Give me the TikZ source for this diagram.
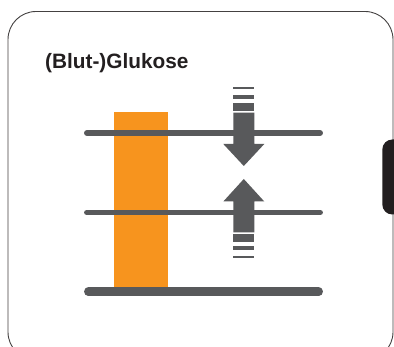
\documentclass[tikz,border=0pt]{standalone}
\usepackage{fontspec}
\setmainfont{Liberation Sans}
\definecolor{barorange}{HTML}{F7941E}
\definecolor{levelgray}{HTML}{58595B}
\definecolor{tabblack}{HTML}{231F20}
\begin{document}
\begin{tikzpicture}[x=1pt,y=-1pt,
  level/.style={draw=levelgray,line cap=round,line width=5.5pt},
  baseline level/.style={draw=levelgray,line cap=round,line width=8.5pt},
  arrowfill/.style={fill=levelgray}]
\useasboundingbox (0,0) rectangle (394,347);
\clip (0,0) rectangle (394,347);
\fill[white] (0,0) rectangle (394,347);
% frame
\draw[draw=tabblack!85,line width=0.9pt,rounded corners=28pt] (8,11.5) rectangle (393,360);
% side tab
\fill[tabblack,rounded corners=10pt] (405,139.5) -- (382.3,139.5) -- (382.3,214.5) -- (405,214.5) -- cycle;
% title
\node[anchor=base west,inner sep=0pt,font=\bfseries\fontsize{20.8}{24}\selectfont,text=tabblack] (title) at (45,69) {(Blut-)Glukose};
% orange bar
\fill[barorange] (114,111.7) rectangle (167.8,288);
% levels
\draw[level] (86.8,133) -- (320.2,133);
\draw[level] (86.8,212.5) -- (320.2,212.5);
\draw[baseline level] (88.3,291.7) -- (318.7,291.7);
% down arrow
\fill[arrowfill] (233.3,112.7) -- (254.3,112.7) -- (254.3,144) -- (264.3,144) -- (243.8,166) -- (223.3,144) -- (233.3,144) -- cycle;
\fill[arrowfill] (233.3,86.8) rectangle (254.3,89.3);
\fill[arrowfill] (233.3,95) rectangle (254.3,98.8);
\fill[arrowfill] (233.3,103.3) rectangle (254.3,110.7);
% up arrow
\fill[arrowfill] (233.3,232.3) -- (254.3,232.3) -- (254.3,201.5) -- (264.3,201.5) -- (243.8,179) -- (223.3,201.5) -- (233.3,201.5) -- cycle;
\fill[arrowfill] (233.3,234.3) rectangle (254.3,241.7);
\fill[arrowfill] (233.3,246.2) rectangle (254.3,250);
\fill[arrowfill] (233.3,255.7) rectangle (254.3,258.2);
\end{tikzpicture}
\end{document}
